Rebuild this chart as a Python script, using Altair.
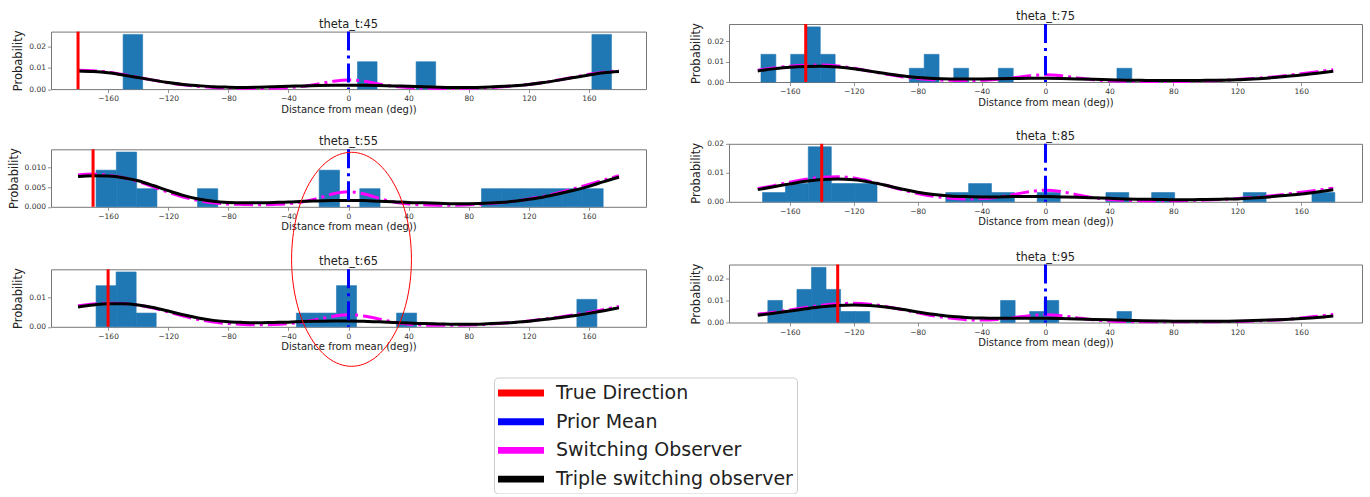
import altair as alt
import pandas as pd

# ---------------- data ----------------
X_DEG = list(range(-180, 181, 10))
X_TICKS = [-160, -120, -80, -40, 0, 40, 80, 120, 160]
PRIOR_MEAN = 0

TITLES = ["theta_t:45", "theta_t:55", "theta_t:65", "theta_t:75", "theta_t:85", "theta_t:95"]
TRUE_DIR = [-180, -170, -160, -150, -140, -130]

# histogram bars (left edge, right edge, density)
BAR_L_45 = [-150, 6, 45, 162]
BAR_R_45 = [-137, 19, 58, 175]
BAR_H_45 = [0.0256, 0.0128, 0.0128, 0.0256]

BAR_L_55 = [-168, -154.5, -141, -100.5, -19.5, 7.5, 88.5, 102, 115.5, 129, 142.5, 156]
BAR_R_55 = [-154.5, -141, -127.5, -87, -6, 21, 102, 115.5, 129, 142.5, 156, 169.5]
BAR_H_55 = [0.0093, 0.0139, 0.0046, 0.0046, 0.0093, 0.0046, 0.0046, 0.0046, 0.0046, 0.0046, 0.0046, 0.0046]

BAR_L_65 = [-168, -154.67, -141.33, -34.67, -21.33, -8, 32, 152]
BAR_R_65 = [-154.67, -141.33, -128, -21.33, -8, 5.33, 45.33, 165.33]
BAR_H_65 = [0.0141, 0.0188, 0.0047, 0.0047, 0.0047, 0.0141, 0.0047, 0.0094]

BAR_L_75 = [-178, -159.4, -150.2, -140.9, -85.2, -75.9, -57.4, -29.5, 44.7]
BAR_R_75 = [-168.7, -150.2, -140.9, -131.6, -75.9, -66.6, -48.1, -20.2, 54]
BAR_H_75 = [0.0135, 0.0135, 0.0269, 0.0135, 0.0067, 0.0135, 0.0067, 0.0067, 0.0067]

BAR_L_85 = [-177, -162.7, -148.4, -134.0, -119.7, -62.4, -48.1, -33.8, -5.2, 37.8, 66.4, 123.7, 166.7]
BAR_R_85 = [-162.7, -148.4, -134.0, -119.7, -105.4, -48.1, -33.8, -19.5, 9.2, 52.1, 80.8, 138.0, 181]
BAR_H_85 = [0.0032, 0.0063, 0.0190, 0.0063, 0.0063, 0.0032, 0.0063, 0.0032, 0.0032, 0.0032, 0.0032, 0.0032, 0.0032]

BAR_L_95 = [-173.7, -164.6, -155.5, -146.4, -137.3, -128.2, -119.1, -28.1, -9.9, -0.8, 44.7]
BAR_R_95 = [-164.6, -155.5, -146.4, -137.3, -128.2, -119.1, -110.0, -19.0, -0.8, 8.3, 53.8]
BAR_H_95 = [0.0100, 0.0050, 0.0150, 0.0250, 0.0150, 0.0050, 0.0050, 0.0100, 0.0050, 0.0100, 0.0050]

# model curves sampled every 10 deg from -180 to 180
BLACK_45 = [0.0085, 0.0082, 0.0076, 0.0066, 0.0054, 0.0042, 0.0031, 0.0022, 0.0016, 0.0011, 0.0009, 0.0008, 0.0009,
            0.0011, 0.0013, 0.0015, 0.0017, 0.0018, 0.0018, 0.0018, 0.0017, 0.0015, 0.0013, 0.0011, 0.0009, 0.0008,
            0.0008, 0.0009, 0.0012, 0.0016, 0.0022, 0.0031, 0.0042, 0.0054, 0.0066, 0.0076, 0.0082]
MAGENTA_45 = [0.0088, 0.0086, 0.0079, 0.0068, 0.0055, 0.0042, 0.0030, 0.0020, 0.0013, 0.0008, 0.0005, 0.0004, 0.0003,
              0.0004, 0.0007, 0.0013, 0.0024, 0.0037, 0.0043, 0.0037, 0.0024, 0.0013, 0.0007, 0.0004, 0.0003, 0.0003,
              0.0004, 0.0006, 0.0010, 0.0015, 0.0022, 0.0031, 0.0043, 0.0056, 0.0069, 0.0079, 0.0086]
BLACK_55 = [0.0077, 0.0079, 0.0078, 0.0074, 0.0066, 0.0054, 0.0041, 0.0029, 0.0020, 0.0014, 0.0011, 0.0010, 0.0010,
            0.0011, 0.0012, 0.0014, 0.0015, 0.0016, 0.0016, 0.0016, 0.0014, 0.0013, 0.0011, 0.0010, 0.0009, 0.0008,
            0.0008, 0.0009, 0.0011, 0.0014, 0.0019, 0.0025, 0.0033, 0.0042, 0.0052, 0.0064, 0.0075]
MAGENTA_55 = [0.0081, 0.0083, 0.0080, 0.0074, 0.0064, 0.0051, 0.0037, 0.0025, 0.0016, 0.0010, 0.0007, 0.0006, 0.0005,
              0.0006, 0.0008, 0.0013, 0.0022, 0.0033, 0.0038, 0.0033, 0.0022, 0.0012, 0.0007, 0.0005, 0.0004, 0.0004,
              0.0005, 0.0007, 0.0010, 0.0014, 0.0020, 0.0027, 0.0036, 0.0046, 0.0057, 0.0068, 0.0079]
BLACK_65 = [0.0068, 0.0075, 0.0079, 0.0079, 0.0075, 0.0066, 0.0054, 0.0041, 0.0030, 0.0022, 0.0017, 0.0015, 0.0014,
            0.0015, 0.0016, 0.0018, 0.0019, 0.0020, 0.0020, 0.0019, 0.0017, 0.0015, 0.0013, 0.0011, 0.0010, 0.0009,
            0.0009, 0.0010, 0.0012, 0.0015, 0.0019, 0.0025, 0.0031, 0.0038, 0.0046, 0.0055, 0.0065]
MAGENTA_65 = [0.0072, 0.0078, 0.0081, 0.0080, 0.0074, 0.0064, 0.0051, 0.0037, 0.0025, 0.0016, 0.0011, 0.0008, 0.0007,
              0.0008, 0.0011, 0.0017, 0.0026, 0.0036, 0.0041, 0.0037, 0.0027, 0.0016, 0.0009, 0.0006, 0.0005, 0.0005,
              0.0006, 0.0008, 0.0011, 0.0015, 0.0020, 0.0026, 0.0033, 0.0041, 0.0049, 0.0059, 0.0070]
BLACK_75 = [0.0054, 0.0064, 0.0072, 0.0076, 0.0077, 0.0073, 0.0065, 0.0053, 0.0041, 0.0030, 0.0022, 0.0017, 0.0015,
            0.0015, 0.0015, 0.0016, 0.0017, 0.0018, 0.0018, 0.0017, 0.0015, 0.0013, 0.0011, 0.0009, 0.0008, 0.0007,
            0.0007, 0.0007, 0.0008, 0.0009, 0.0011, 0.0015, 0.0020, 0.0027, 0.0034, 0.0043, 0.0053]
MAGENTA_75 = [0.0058, 0.0068, 0.0077, 0.0082, 0.0083, 0.0078, 0.0067, 0.0053, 0.0039, 0.0026, 0.0017, 0.0011, 0.0008,
              0.0007, 0.0008, 0.0013, 0.0021, 0.0030, 0.0035, 0.0030, 0.0020, 0.0011, 0.0006, 0.0004, 0.0003, 0.0003,
              0.0003, 0.0004, 0.0006, 0.0008, 0.0012, 0.0017, 0.0023, 0.0031, 0.0040, 0.0050, 0.0060]
BLACK_85 = [0.0042, 0.0052, 0.0062, 0.0071, 0.0077, 0.0079, 0.0076, 0.0068, 0.0057, 0.0044, 0.0033, 0.0025, 0.0020,
            0.0018, 0.0017, 0.0017, 0.0018, 0.0018, 0.0018, 0.0017, 0.0016, 0.0014, 0.0012, 0.0010, 0.0009, 0.0008,
            0.0007, 0.0007, 0.0008, 0.0009, 0.0010, 0.0013, 0.0017, 0.0022, 0.0027, 0.0034, 0.0042]
MAGENTA_85 = [0.0046, 0.0056, 0.0068, 0.0078, 0.0085, 0.0087, 0.0082, 0.0071, 0.0057, 0.0042, 0.0029, 0.0019, 0.0013,
              0.0010, 0.0011, 0.0016, 0.0025, 0.0035, 0.0040, 0.0035, 0.0024, 0.0014, 0.0008, 0.0005, 0.0004, 0.0004,
              0.0004, 0.0005, 0.0006, 0.0008, 0.0011, 0.0015, 0.0020, 0.0026, 0.0033, 0.0040, 0.0047]
BLACK_95 = [0.0033, 0.0042, 0.0052, 0.0062, 0.0071, 0.0077, 0.0079, 0.0077, 0.0070, 0.0060, 0.0048, 0.0037, 0.0028,
            0.0023, 0.0020, 0.0019, 0.0019, 0.0019, 0.0019, 0.0018, 0.0016, 0.0014, 0.0012, 0.0010, 0.0008, 0.0007,
            0.0006, 0.0006, 0.0006, 0.0006, 0.0007, 0.0009, 0.0011, 0.0014, 0.0018, 0.0023, 0.0030]
MAGENTA_95 = [0.0037, 0.0046, 0.0057, 0.0068, 0.0078, 0.0085, 0.0087, 0.0083, 0.0073, 0.0059, 0.0044, 0.0030, 0.0020,
              0.0013, 0.0011, 0.0014, 0.0022, 0.0031, 0.0035, 0.0031, 0.0021, 0.0012, 0.0007, 0.0004, 0.0003, 0.0003,
              0.0003, 0.0003, 0.0003, 0.0004, 0.0005, 0.0007, 0.0010, 0.0014, 0.0020, 0.0028, 0.0037]

Y_TOP = [0.0269, 0.0146, 0.0197, 0.0283, 0.02005, 0.0263]
Y_TICKS_45 = [0.0, 0.01, 0.02]
Y_TICKS_55 = [0.0, 0.005, 0.010]
Y_TICKS_65 = [0.0, 0.01]
Y_TICKS_75 = [0.0, 0.01, 0.02]
Y_TICKS_85 = [0.0, 0.01, 0.02]
Y_TICKS_95 = [0.0, 0.01, 0.02]

LEGEND_LABELS = ["True Direction", "Prior Mean", "Switching Observer", "Triple switching observer"]
LEGEND_COLORS = ["#ff0000", "#0000ff", "#ff00ff", "#000000"]

# ---------------- chart ----------------
FONT = "DejaVu Sans"
DASHDOT = [19, 5, 3, 5]
BAR_BLUE = "#1f77b4"


def make_panel(title, bl, br, bh, black, magenta, true_dir, ytop, yticks, yfmt, width, height, ellipse=False):
    xs = alt.Scale(domain=[-198, 198], nice=False, zero=False)
    ys = alt.Scale(domain=[0, ytop], nice=False, zero=False)
    xaxis = alt.Axis(values=X_TICKS, format="d", title="Distance from mean (deg))")
    yaxis = alt.Axis(values=yticks, format=yfmt, title="Probability")

    bars_df = pd.DataFrame({"x": bl, "x2": br, "y": bh})
    curve_df = pd.DataFrame({"deg": X_DEG, "black": black, "magenta": magenta})

    bars = alt.Chart(bars_df).mark_rect(color=BAR_BLUE, stroke=BAR_BLUE, strokeWidth=0.6).encode(
        x=alt.X("x:Q", scale=xs, axis=xaxis),
        x2="x2:Q",
        y=alt.Y("y:Q", scale=ys, axis=yaxis),
        y2=alt.datum(0),
    )
    mag = alt.Chart(curve_df).mark_line(color="#ff00ff", strokeWidth=3, strokeDash=DASHDOT,
                                        interpolate="monotone").encode(
        x=alt.X("deg:Q", scale=xs, axis=xaxis),
        y=alt.Y("magenta:Q", scale=ys, axis=yaxis),
    )
    blk = alt.Chart(curve_df).mark_line(color="#000000", strokeWidth=3, interpolate="monotone").encode(
        x=alt.X("deg:Q", scale=xs, axis=xaxis),
        y=alt.Y("black:Q", scale=ys, axis=yaxis),
    )
    red = alt.Chart(pd.DataFrame({"t": [true_dir]})).mark_rule(color="#ff0000", strokeWidth=3).encode(
        x=alt.X("t:Q", scale=xs, axis=xaxis),
    )
    blue = alt.Chart(pd.DataFrame({"m": [PRIOR_MEAN]})).mark_rule(color="#0000ff", strokeWidth=3,
                                                                  strokeDash=DASHDOT).encode(
        x=alt.X("m:Q", scale=xs, axis=xaxis),
    )
    # panel title as a text mark centred over the plot area
    ttl = alt.Chart(pd.DataFrame({"cx": [0], "label": [title]})).mark_text(
        font=FONT, fontSize=11.5, color="#222222", baseline="middle", align="center",
    ).encode(x=alt.X("cx:Q", scale=xs, axis=xaxis), y=alt.value(-7), text="label:N")
    layers = [bars, mag, blk, red, blue, ttl]
    if ellipse:
        ell = alt.Chart(pd.DataFrame({"c": [2]})).mark_point(
            shape="M 0 -1 A 0.56 1 0 1 0 0 1 A 0.56 1 0 1 0 0 -1 Z",
            size=45796, filled=False, stroke="#ff0000", strokeWidth=1, opacity=1,
        ).encode(x=alt.X("c:Q", scale=xs, axis=xaxis), y=alt.value(-10))
        layers.append(ell)
    return alt.layer(*layers).properties(width=width, height=height)


LW, LH = 595, 57.5
RW, RH = 633, 58

p45 = make_panel(TITLES[0], BAR_L_45, BAR_R_45, BAR_H_45, BLACK_45, MAGENTA_45, TRUE_DIR[0], Y_TOP[0],
                 Y_TICKS_45, ".2f", LW, LH)
p55 = make_panel(TITLES[1], BAR_L_55, BAR_R_55, BAR_H_55, BLACK_55, MAGENTA_55, TRUE_DIR[1], Y_TOP[1],
                 Y_TICKS_55, ".3f", LW, LH)
p65 = make_panel(TITLES[2], BAR_L_65, BAR_R_65, BAR_H_65, BLACK_65, MAGENTA_65, TRUE_DIR[2], Y_TOP[2],
                 Y_TICKS_65, ".2f", LW, LH, ellipse=True)
p75 = make_panel(TITLES[3], BAR_L_75, BAR_R_75, BAR_H_75, BLACK_75, MAGENTA_75, TRUE_DIR[3], Y_TOP[3],
                 Y_TICKS_75, ".2f", RW, RH)
p85 = make_panel(TITLES[4], BAR_L_85, BAR_R_85, BAR_H_85, BLACK_85, MAGENTA_85, TRUE_DIR[4], Y_TOP[4],
                 Y_TICKS_85, ".2f", RW, RH)
p95 = make_panel(TITLES[5], BAR_L_95, BAR_R_95, BAR_H_95, BLACK_95, MAGENTA_95, TRUE_DIR[5], Y_TOP[5],
                 Y_TICKS_95, ".2f", RW, RH)

# invisible spacer that pushes the left column a few pixels lower than the right one
spacer = alt.Chart(pd.DataFrame({"s": [0]})).transform_filter("false").mark_point(opacity=0).encode(
    x=alt.value(0), y=alt.value(0)
).properties(width=LW, height=1, view=alt.ViewBackground(stroke="transparent"))

left_col = alt.vconcat(
    spacer,
    alt.vconcat(
        alt.vconcat(p45, p55, spacing=20.7),
        p65,
        spacing=-83.3,
    ),
    spacing=-8.4,
)
right_col = alt.vconcat(
    alt.vconcat(p75, p85, spacing=21.8),
    p95,
    spacing=22.5,
)

legend_df = pd.DataFrame({"series": LEGEND_LABELS})
legend_chart = alt.Chart(legend_df).transform_filter("false").mark_point(filled=True, opacity=1).encode(
    color=alt.Color(
        "series:N",
        scale=alt.Scale(domain=LEGEND_LABELS, range=LEGEND_COLORS),
        legend=alt.Legend(
            title=None, orient="none", legendX=443, legendY=353.5,
            symbolType="M -2 -0.3 L 2 -0.3 L 2 0.3 L -2 0.3 Z", symbolSize=529,
            symbolStrokeWidth=0, symbolOffset=11.5, labelOffset=23.5,
            labelFontSize=19, labelFont=FONT, labelColor="#222222", labelLimit=400,
            rowPadding=6.7, padding=4, strokeColor="#cccccc", fillColor="#ffffff", cornerRadius=4,
        ),
    )
).properties(width=300, height=1, view=alt.ViewBackground(stroke="transparent"))

chart = alt.vconcat(
    alt.hconcat(left_col, right_col, spacing=43),
    legend_chart,
    spacing=10,
).properties(
    padding={"left": 7, "top": 10, "right": 0, "bottom": 0},
    background="#ffffff",
).configure(
    font=FONT,
).configure_view(
    stroke="#777777", strokeWidth=1,
).configure_axis(
    grid=False, domain=False, tickColor="#777777", tickSize=3.5, tickWidth=0.8,
    labelFont=FONT, titleFont=FONT, labelFontSize=7.5, labelColor="#333333", titleColor="#222222",
    titleFontWeight="normal", labelPadding=2,
).configure_axisX(
    titleFontSize=10, titlePadding=2,
).configure_axisY(
    titleFontSize=11.5, titlePadding=5,
)

chart.save("out.html", embed_options={"renderer": "svg", "actions": False})
